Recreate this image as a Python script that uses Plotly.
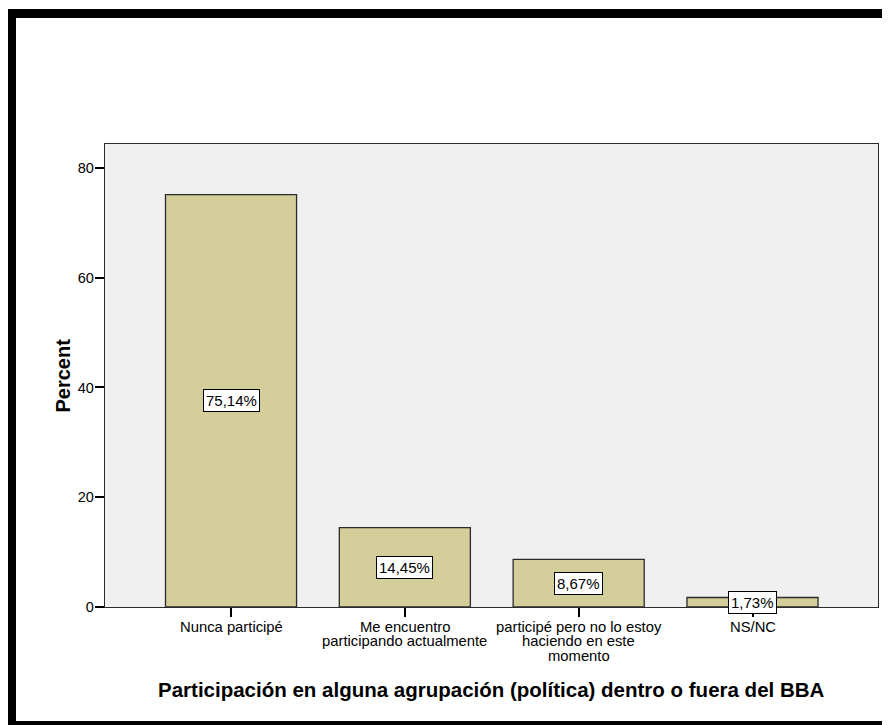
import plotly.graph_objects as go

categories = ["Nunca participé", "Me encuentro<br>participando actualmente",
              "participé pero no lo estoy<br>haciendo en este<br>momento", "NS/NC"]
values = [75.14, 14.45, 8.67, 1.73]
labels = ["75,14%", "14,45%", "8,67%", "1,73%"]
yticks = [0, 20, 40, 60, 80]

OFF = 8  # page body margin
W, H = 890 - OFF, 725 - OFF
L, T = 105 - OFF, 144 - OFF
R = W - (878 - OFF)
B = H - (607 - OFF)
pw, ph = W - L - R, H - T - B
FONT = "Liberation Sans, Arial"


def px(x):  # reference pixel -> paper x
    return (x - OFF - L) / pw


def py(y):  # reference pixel -> paper y
    return (H - B - (y - OFF)) / ph


fig = go.Figure()
fig.add_trace(go.Bar(
    x=list(range(len(categories))), y=values, width=0.754,
    marker=dict(color="#d3ce9a", line=dict(color="#2b2b2b", width=1.3)),
    hoverinfo="skip"))

for i, (v, t) in enumerate(zip(values, labels)):
    fig.add_annotation(x=i, y=v / 2, text=t, showarrow=False,
                       xanchor="center", yanchor="middle",
                       font=dict(family=FONT, size=15, color="#000"),
                       bgcolor="white", bordercolor="#000", borderwidth=1, borderpad=2)

# category labels, one line each (tight line spacing as in the original)
for i, cat in enumerate(categories):
    for k, line in enumerate(cat.split("<br>")):
        fig.add_annotation(x=i, xref="x", yref="paper", y=py(627 + 14.3 * k),
                           xanchor="center", yanchor="middle", text=line, showarrow=False,
                           borderpad=0,
                           font=dict(family=FONT, size=14.8, color="#000"))

fig.update_layout(
    width=W, height=H, margin=dict(l=L, r=R, t=T, b=B),
    paper_bgcolor="white", plot_bgcolor="#f0f0f0", showlegend=False,
    font=dict(family=FONT, size=14.5, color="#000"),
    xaxis=dict(range=[-0.725, 3.722], tickmode="array",
               tickvals=list(range(len(categories))), showticklabels=False,
               ticks="outside", ticklen=9, tickwidth=2, tickcolor="#000",
               showline=True, linecolor="#2b2b2b", linewidth=1.3, mirror=True,
               showgrid=False, zeroline=False),
    yaxis=dict(range=[0, 84.37], tickvals=yticks, ticks="outside", ticklen=9,
               tickwidth=2, tickcolor="#000", showline=True, linecolor="#2b2b2b",
               linewidth=1.3, mirror=True, showgrid=False, zeroline=False,
               ticklabelstandoff=-2,
               tickfont=dict(family=FONT, size=14.5, color="#000")),
    shapes=[
        dict(type="rect", xref="paper", yref="paper", x0=px(7), x1=px(16),
             y0=py(724), y1=py(9), fillcolor="#000", line=dict(width=0)),
        dict(type="rect", xref="paper", yref="paper", x0=px(7), x1=px(892),
             y0=py(18), y1=py(9), fillcolor="#000", line=dict(width=0)),
        dict(type="rect", xref="paper", yref="paper", x0=px(7), x1=px(892),
             y0=py(725), y1=py(721), fillcolor="#000", line=dict(width=0)),
    ],
)

fig.add_annotation(xref="paper", yref="paper", x=px(62.5), y=py(376), text="<b>Percent</b>",
                   xanchor="center", yanchor="middle",
                   textangle=-90, showarrow=False,
                   font=dict(family=FONT, size=20, color="#000"))
fig.add_annotation(xref="paper", yref="paper", x=0.5, y=py(689),
                   xanchor="center", yanchor="middle",
                   text="<b>Participación en alguna agrupación (política) dentro o fuera del BBA</b>",
                   showarrow=False,
                   font=dict(family=FONT, size=20.5, color="#000"))

fig.write_html("out.html")
